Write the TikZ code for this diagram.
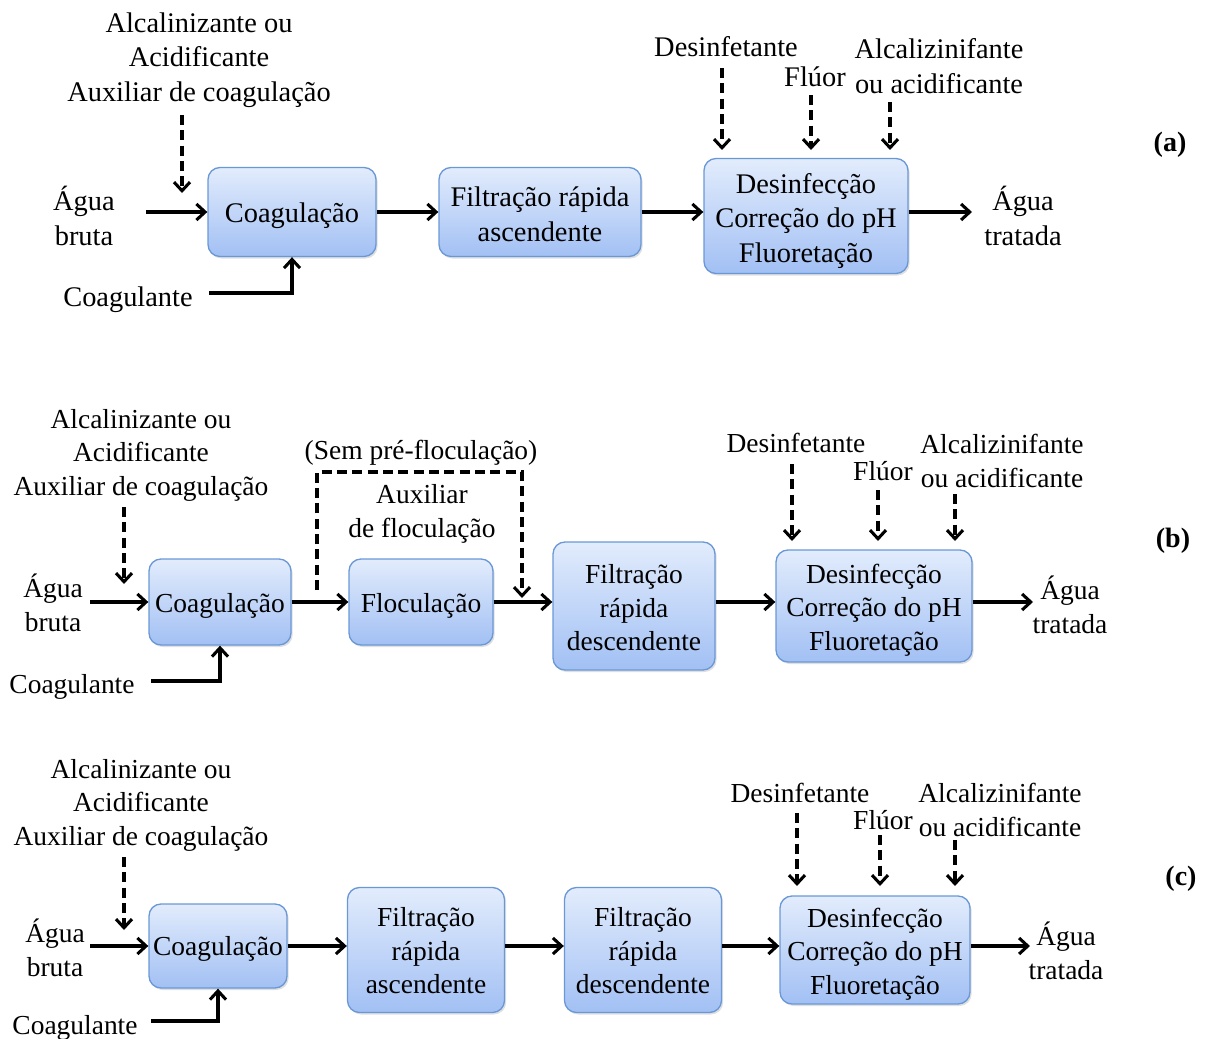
\documentclass[tikz,border=0pt]{standalone}
\usepackage{fontspec}
\setmainfont{LiberationSerif}[Extension=.ttf, UprightFont=*-Regular, BoldFont=*-Bold, ItalicFont=*-Italic, BoldItalicFont=*-BoldItalic]
\usetikzlibrary{arrows.meta,shadows}
\definecolor{boxtop}{HTML}{E2ECFC}
\definecolor{boxbot}{HTML}{A2C0F4}
\definecolor{boxline}{HTML}{6A98D6}
\begin{document}
\begin{tikzpicture}[x=0.75pt,y=-0.75pt,
  box/.style 2 args={draw=boxline, line width=1pt, rounded corners=9pt,
    top color=boxtop, bottom color=boxbot,
    minimum width=#1*0.75pt, minimum height=#2*0.75pt,
    inner sep=0pt,
    drop shadow={shadow xshift=1.2pt, shadow yshift=-1.5pt, opacity=0.25, fill=gray}},
  lbl/.style={align=center, inner sep=0pt},
  fa/.style={font=\fontsize{21.3}{26}\selectfont},
  fb/.style={font=\fontsize{20.6}{25.1}\selectfont},
  tag/.style={inner sep=0pt, font=\bfseries\fontsize{21}{25}\selectfont},
  arr/.style={line width=2.3pt, -{Straight Barb[length=6.5pt,width=12pt]}},
  darr/.style={arr, dash pattern=on 7.5pt off 4pt}]
\useasboundingbox (0,0) rectangle (1211,1039);

% ---------------- (a) ----------------
\node[lbl,fa] (a-aux) at (199,60) {Alcalinizante ou\\Acidificante\\Auxiliar de coagulação};
\coordinate (a-auxs) at (182,115);
\coordinate (a-auxe) at (182,193);
\draw[darr] (a-auxs) -- (a-auxe);
\node[lbl,fa] (a-agua) at (84,216) {Água\\bruta};
\node[box={168}{89}] (a-coag) at (292,212) {};
\node[lbl,fa] (a-coag-t) at (292,216) {Coagulação};
\coordinate (a-in) at (146,212);
\draw[arr] (a-in) -- (a-coag.west);
\node[lbl,fa] (a-cl) at (128,300) {Coagulante};
\coordinate (a-cs) at (209,293);
\draw[arr] (a-cs) -| (a-coag.south);
\node[box={202}{89}] (a-filt) at (540,212) {};
\node[lbl,fa] (a-filt-t) at (540,214) {Filtração rápida\\ascendente};
\draw[arr] (a-coag) -- (a-filt);
\node[box={204}{115}] (a-des) at (806,216) {};
\node[lbl,fa] (a-des-t) at (806,221) {Desinfecção\\Correção do pH\\Fluoretação};
\draw[arr] (a-filt.east) -- (a-filt.east -| a-des.west);
\node[lbl,fa] (a-trat) at (1023,216) {Água\\tratada};
\coordinate (a-out) at (972,212);
\draw[arr] (a-des.east |- a-out) -- (a-out);
\node[lbl,fa] (a-d1) at (726,47) {Desinfetante};
\node[lbl,fa] (a-d2) at (815,77) {Flúor};
\node[lbl,fa] (a-d3) at (939,66) {Alcalizinifante\\ou acidificante};
\coordinate (a-d1s) at (722,68);  \coordinate (a-d1e) at (722,150);
\coordinate (a-d2s) at (811,95);  \coordinate (a-d2e) at (811,150);
\coordinate (a-d3s) at (890,102); \coordinate (a-d3e) at (890,150);
\draw[darr] (a-d1s) -- (a-d1e);
\draw[darr] (a-d2s) -- (a-d2e);
\draw[darr] (a-d3s) -- (a-d3e);
\node[tag] (a-tag) at (1170,145) {(a)};

% ---------------- (b) ----------------
\node[lbl,fb] (b-aux) at (141,455) {Alcalinizante ou\\Acidificante\\Auxiliar de coagulação};
\coordinate (b-auxs) at (124,507);
\coordinate (b-auxe) at (124,584);
\draw[darr] (b-auxs) -- (b-auxe);
\node[lbl,fb] (b-agua) at (53,603) {Água\\bruta};
\node[box={142}{86}] (b-coag) at (220,602) {};
\node[lbl,fb] (b-coag-t) at (220,606) {Coagulação};
\coordinate (b-in) at (90,602);
\draw[arr] (b-in) -- (b-coag.west);
\node[lbl,fb] (b-cl) at (72,687) {Coagulante};
\coordinate (b-cs) at (151,681);
\draw[arr] (b-cs) -| (b-coag.south);
\node[box={144}{86}] (b-floc) at (421,602) {};
\node[lbl,fb] (b-floc-t) at (421,606) {Floculação};
\draw[arr] (b-coag) -- (b-floc);
\node[lbl,fb] (b-sem) at (421,453) {(Sem pré-floculação)};
\node[lbl,fb] (b-auxf) at (422,514) {Auxiliar\\de floculação};
\coordinate (b-l1) at (317,590);
\coordinate (b-l2) at (317,472);
\coordinate (b-l3) at (522,472);
\coordinate (b-l4) at (522,598);
\draw[darr] (b-l1) -- (b-l2) -- (b-l3) -- (b-l4);
\node[box={162}{128}] (b-filt) at (634,606) {};
\node[lbl,fb] (b-filt-t) at (634,608) {Filtração\\rápida\\descendente};
\draw[arr] (b-floc.east) -- (b-floc.east -| b-filt.west);
\node[box={196}{112}] (b-des) at (874,606) {};
\node[lbl,fb] (b-des-t) at (874,610) {Desinfecção\\Correção do pH\\Fluoretação};
\draw[arr] (b-filt.east |- b-floc) -- (b-floc -| b-des.west);
\node[lbl,fb] (b-trat) at (1070,605) {Água\\tratada};
\coordinate (b-out) at (1033,602);
\draw[arr] (b-des.east |- b-out) -- (b-out);
\node[lbl,fb] (b-d1) at (796,443) {Desinfetante};
\node[lbl,fb] (b-d2) at (883,471) {Flúor};
\node[lbl,fb] (b-d3) at (1002,461) {Alcalizinifante\\ou acidificante};
\coordinate (b-d1s) at (792,464); \coordinate (b-d1e) at (792,541);
\coordinate (b-d2s) at (878,490); \coordinate (b-d2e) at (878,541);
\coordinate (b-d3s) at (955,494); \coordinate (b-d3e) at (955,541);
\draw[darr] (b-d1s) -- (b-d1e);
\draw[darr] (b-d2s) -- (b-d2e);
\draw[darr] (b-d3s) -- (b-d3e);
\node[tag] (b-tag) at (1173,541) {(b)};

% ---------------- (c) ----------------
\node[lbl,fb] (c-aux) at (141,805) {Alcalinizante ou\\Acidificante\\Auxiliar de coagulação};
\coordinate (c-auxs) at (124,857);
\coordinate (c-auxe) at (124,930);
\draw[darr] (c-auxs) -- (c-auxe);
\node[lbl,fb] (c-agua) at (55,948) {Água\\bruta};
\node[box={138}{84}] (c-coag) at (218,946) {};
\node[lbl,fb] (c-coag-t) at (218,949) {Coagulação};
\coordinate (c-in) at (90,946);
\draw[arr] (c-in) -- (c-coag.west);
\node[lbl,fb] (c-cl) at (75,1028) {Coagulante};
\coordinate (c-cs) at (151,1021);
\draw[arr] (c-cs) -| (c-coag.south);
\node[box={157}{125}] (c-f1) at (426,950) {};
\node[lbl,fb] (c-f1-t) at (426,951) {Filtração\\rápida\\ascendente};
\draw[arr] (c-coag.east) -- (c-coag.east -| c-f1.west);
\node[box={157}{125}] (c-f2) at (643,950) {};
\node[lbl,fb] (c-f2-t) at (643,951) {Filtração\\rápida\\descendente};
\draw[arr] (c-f1.east |- c-coag) -- (c-coag -| c-f2.west);
\node[box={190}{108}] (c-des) at (875,950) {};
\node[lbl,fb] (c-des-t) at (875,954) {Desinfecção\\Correção do pH\\Fluoretação};
\draw[arr] (c-f2.east |- c-coag) -- (c-coag -| c-des.west);
\node[lbl,fb] (c-trat) at (1066,951) {Água\\tratada};
\coordinate (c-out) at (1030,946);
\draw[arr] (c-des.east |- c-out) -- (c-out);
\node[lbl,fb] (c-d1) at (800,793) {Desinfetante};
\node[lbl,fb] (c-d2) at (883,820) {Flúor};
\node[lbl,fb] (c-d3) at (1000,810) {Alcalizinifante\\ou acidificante};
\coordinate (c-d1s) at (797,813); \coordinate (c-d1e) at (797,886);
\coordinate (c-d2s) at (880,835); \coordinate (c-d2e) at (880,886);
\coordinate (c-d3s) at (955,840); \coordinate (c-d3e) at (955,886);
\draw[darr] (c-d1s) -- (c-d1e);
\draw[darr] (c-d2s) -- (c-d2e);
\draw[darr] (c-d3s) -- (c-d3e);
\node[tag] (c-tag) at (1181,879) {(c)};
\end{tikzpicture}
\end{document}
